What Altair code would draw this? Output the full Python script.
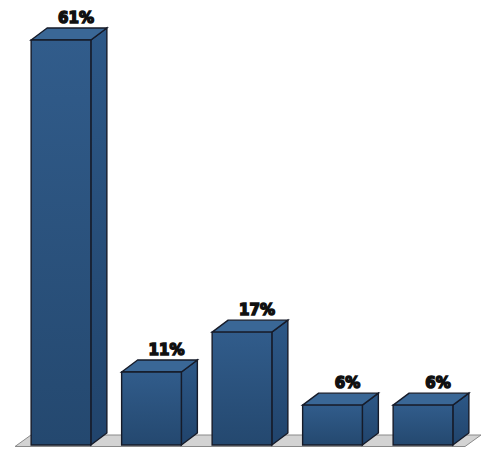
import altair as alt
import pandas as pd

# ---- data ----
categories = ["A", "B", "C", "D", "E"]
values = [61, 11, 17, 6, 6]
labels = ["61%", "11%", "17%", "6%", "6%"]

# ---- layout constants (style) ----
W, H = 474, 439
PX_PER_SLOT = 90.5
BASE_PX = 437            # plot-y of value 0
PX_PER_PCT = (BASE_PX - 32) / 61
HALF = 0.33              # half front width (slot units)
DX = 16 / PX_PER_SLOT    # depth in x (slot units)
DY = 12 / PX_PER_PCT     # depth in y (pct units)

xa = -53 / PX_PER_SLOT
xb = xa + W / PX_PER_SLOT
ymin = -(H - BASE_PX) / PX_PER_PCT
ymax = BASE_PX / PX_PER_PCT

xs = alt.Scale(domain=[xa, xb], nice=False, zero=False)
ys = alt.Scale(domain=[ymin, ymax], nice=False, zero=False)

n = len(values)
front = pd.DataFrame({
    "cat": categories,
    "x0": [i - HALF for i in range(n)],
    "x1": [i + HALF for i in range(n)],
    "y0": [0.0] * n,
    "y1": values,
})

side_rows, top_rows = [], []
for i, v in enumerate(values):
    side_rows.append({"cat": categories[i], "x": i + HALF, "lo": 0.0, "hi": v})
    side_rows.append({"cat": categories[i], "x": i + HALF + DX, "lo": DY, "hi": v + DY})
    top_rows.append({"cat": categories[i], "y": v, "xl": i - HALF, "xr": i + HALF})
    top_rows.append({"cat": categories[i], "y": v + DY, "xl": i - HALF + DX, "xr": i + HALF + DX})
side = pd.DataFrame(side_rows)
top = pd.DataFrame(top_rows)

lab = pd.DataFrame({
    "cat": categories,
    "x": [i + 0.166 for i in range(n)],
    "y": [v + DY for v in values],
    "label": labels,
})

fl_l = xa + 7 / PX_PER_SLOT
fl_r = xa + 457 / PX_PER_SLOT
fl_b = -1.5 / PX_PER_PCT
fl_t = 10 / PX_PER_PCT
floor = pd.DataFrame({
    "y": [fl_b, fl_t],
    "xl": [fl_l, fl_l + DX],
    "xr": [fl_r, fl_r + DX],
})

EDGE = "#161b29"
SW = 1.4

floor_layer = alt.Chart(floor).mark_area(
    orient="horizontal", color="#d3d3d3", stroke="#8a8a8a", strokeWidth=1
).encode(
    y=alt.Y("y:Q", scale=ys, axis=None),
    x=alt.X("xl:Q", scale=xs, axis=None),
    x2="xr:Q",
)

side_grad = alt.Gradient(
    gradient="linear", x1=0, y1=0, x2=0, y2=1,
    stops=[alt.GradientStop(color="#2d5887", offset=0),
           alt.GradientStop(color="#21446c", offset=1)],
)
side_layer = alt.Chart(side).mark_area(
    color=side_grad, stroke=EDGE, strokeWidth=SW
).encode(
    x=alt.X("x:Q", scale=xs, axis=None),
    y=alt.Y("lo:Q", scale=ys, axis=None),
    y2="hi:Q",
    detail="cat:N",
)

top_layer = alt.Chart(top).mark_area(
    orient="horizontal", color="#3a6796", stroke=EDGE, strokeWidth=SW
).encode(
    y=alt.Y("y:Q", scale=ys, axis=None),
    x=alt.X("xl:Q", scale=xs, axis=None),
    x2="xr:Q",
    detail="cat:N",
)

front_grad = alt.Gradient(
    gradient="linear", x1=0, y1=0, x2=0, y2=1,
    stops=[alt.GradientStop(color="#315c8b", offset=0),
           alt.GradientStop(color="#24486f", offset=1)],
)
front_layer = alt.Chart(front).mark_rect(
    color=front_grad, stroke=EDGE, strokeWidth=SW
).encode(
    x=alt.X("x0:Q", scale=xs, axis=None),
    x2="x1:Q",
    y=alt.Y("y0:Q", scale=ys, axis=None),
    y2="y1:Q",
)

text_layer = alt.Chart(lab).mark_text(
    font="DejaVu Sans", fontWeight="bold", fontSize=15, color="#111111",
    stroke="#111111", strokeWidth=1.5, baseline="bottom", dy=-2,
).encode(
    x=alt.X("x:Q", scale=xs, axis=None),
    y=alt.Y("y:Q", scale=ys, axis=None),
    text="label:N",
)

chart = alt.layer(
    floor_layer, side_layer, top_layer, front_layer, text_layer
).properties(
    width=W, height=H, padding=0,
    autosize=alt.AutoSizeParams(type="none"),
).configure(
    background="white",
    view=alt.ViewConfig(stroke=None),
)

chart.save("out.html", embed_options={"renderer": "svg", "actions": False})
